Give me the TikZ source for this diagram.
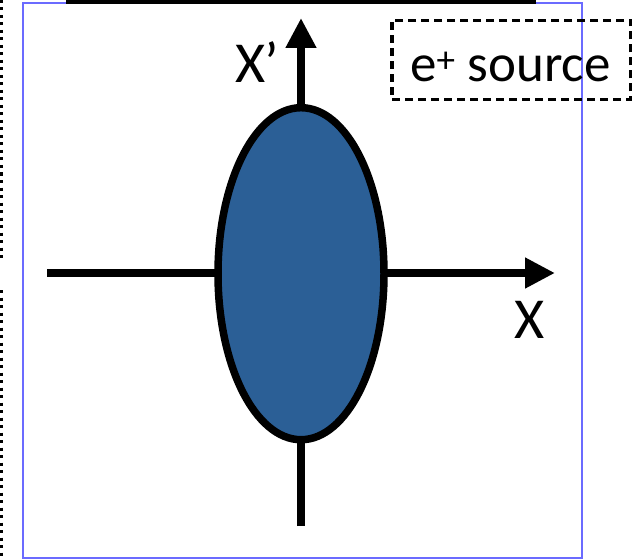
\documentclass[tikz,border=0pt]{standalone}
\usepackage{fontspec}
\setmainfont{Carlito}
\usetikzlibrary{arrows.meta,shapes.geometric}
\definecolor{beamblue}{HTML}{2B5F96}
\definecolor{framecol}{HTML}{6B6BFF}
\tikzset{
  axis/.style={line width=7.5pt,-{Triangle[length=30pt,width=29pt]}},
  lbl/.style={inner sep=0pt,font=\fontsize{58}{62}\selectfont},
  srclbl/.style={inner sep=0pt,font=\fontsize{53}{58}\selectfont},
  dotline/.style={line width=3pt,dash pattern=on 3pt off 4.5pt},
}
\begin{document}
\begin{tikzpicture}[x=1pt,y=-1pt]
\useasboundingbox (0,0) rectangle (632,559);
% frame
\node[draw=framecol,line width=1.5pt,minimum width=559pt,minimum height=555pt,inner sep=0pt] (frame) at (302.5,280.5) {};
% cut-off elements
\node[draw,line width=4.5pt,outer sep=0pt,minimum width=466pt,minimum height=100pt,inner sep=0pt,anchor=south] (topbox) at (301,2) {};
\coordinate (d1a) at (1.5,0);
\coordinate (d1b) at (1.5,262);
\coordinate (d2a) at (1.5,290);
\coordinate (d2b) at (1.5,560);
\draw[dotline] (d1a) -- (d1b);
\draw[dotline] (d2a) -- (d2b);
% axes
\coordinate (xl) at (47,273);
\coordinate (xr) at (555,273);
\coordinate (yb) at (301,526);
\coordinate (yt) at (301,18);
\draw[axis] (xl) -- (xr);
\draw[axis] (yb) -- (yt);
% beam ellipse
\node[ellipse,draw,line width=7.5pt,fill=beamblue,minimum width=166pt,minimum height=332pt,inner sep=0pt] (beam) at (301,273.7) {};
% labels
\node[lbl,anchor=base west] (xplab) at (235,83) {X’};
\node[lbl,anchor=base west] (xlab) at (514,338) {X};
% source box
\node[draw,line width=3.5pt,dash pattern=on 8pt off 5pt,minimum width=239pt,minimum height=79pt,inner sep=0pt] (src) at (511.5,60) {};
\node[srclbl,anchor=base west] (srclab) at (410,82) {e\textsuperscript{+} source};
\end{tikzpicture}
\end{document}
